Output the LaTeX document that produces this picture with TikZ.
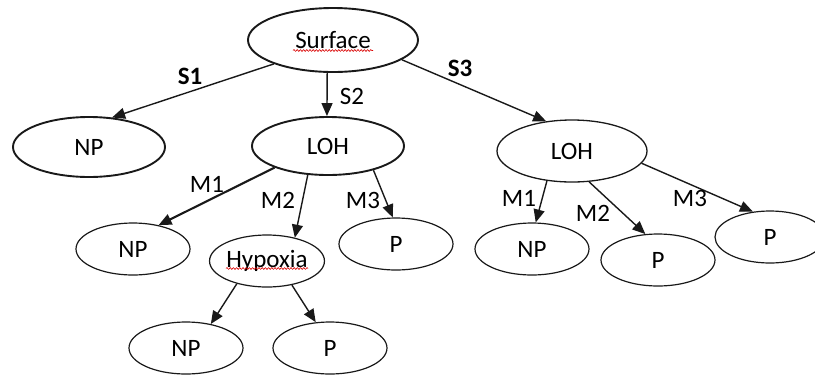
\documentclass[tikz,border=0pt]{standalone}
\usepackage{fontspec}
\setmainfont{Carlito}
\usetikzlibrary{shapes.geometric,arrows.meta,decorations.pathmorphing}
\begin{document}
\begin{tikzpicture}[x=1pt,y=-1pt,
  every node/.style={font=\fontsize{25}{28}\selectfont, text=black},
  blob/.style={ellipse, draw=black!90, line width=1.2pt, inner sep=0pt,
    minimum width=114pt, minimum height=52pt},
  bigblob/.style={blob, line width=1.9pt, minimum width=152pt, minimum height=60pt},
  link/.style={draw=black!90, line width=1.4pt, -{Triangle[length=13pt,width=11pt]}},
  tag/.style={inner sep=0pt},
  boldtag/.style={tag, font=\fontsize{25}{28}\selectfont\bfseries},
  squiggle/.style={draw=red!85!black, line width=0.6pt, decorate,
    decoration={snake, segment length=3.2pt, amplitude=0.9pt}}
]
\useasboundingbox (0,0) rectangle (815,376);

% tree nodes
\node[bigblob, minimum width=170pt, minimum height=64pt] (surf) at (333,40) {Surface};
\node[bigblob] (np1) at (89,147) {NP};
\node[bigblob, minimum height=58pt] (lohA) at (328,146) {LOH};
\node[blob, line width=1.3pt, minimum width=150pt, minimum height=62pt] (lohB) at (572,151) {LOH};
\node[blob] (np2) at (133,249) {NP};
\node[blob] (hyp) at (267,261) {Hypoxia};
\node[blob] (p2) at (396,244) {P};
\node[blob] (np3) at (186,348) {NP};
\node[blob] (p3) at (330,348) {P};
\node[blob] (np4) at (532,249) {NP};
\node[blob] (p4) at (658,260) {P};
\node[blob, minimum width=110pt] (p5) at (770,237) {P};

% spell-check underlines
\draw[squiggle] ([xshift=-40pt,yshift=-10.5pt]surf.center) -- ([xshift=40pt,yshift=-10.5pt]surf.center);
\draw[squiggle] ([xshift=-41pt,yshift=-7.5pt]hyp.center) -- ([xshift=41pt,yshift=-7.5pt]hyp.center);

% connectors
\draw[link] (surf.202) -- (np1.52);
\draw[link] (surf.260) -- (lohA.92);
\draw[link] (surf.344) -- (lohB.131);
\draw[link, line width=2.1pt] (lohA.202) -- (np2.43);
\draw[link] (lohA.235) -- (hyp.40);
\draw[link] (lohA.332) -- (p2.97);
\draw[link] (hyp.217) -- (np3.44);
\draw[link] (hyp.316) -- (p3.119);
\draw[link] (lohB.230) -- (np4.82);
\draw[link] (lohB.299) -- (p4.116);
\draw[link] (lohB.350) -- (p5.124);

% edge labels
\node[boldtag] (ls1) at (190,76) {S1};
\node[tag] (ls2) at (352,96) {S2};
\node[boldtag] (ls3) at (460,68) {S3};
\node[tag] (la1) at (207,184) {M1};
\node[tag] (la2) at (278,200) {M2};
\node[tag] (la3) at (363,200) {M3};
\node[tag] (lb1) at (519,198) {M1};
\node[tag] (lb2) at (593,213) {M2};
\node[tag] (lb3) at (690,198) {M3};
\end{tikzpicture}
\end{document}
